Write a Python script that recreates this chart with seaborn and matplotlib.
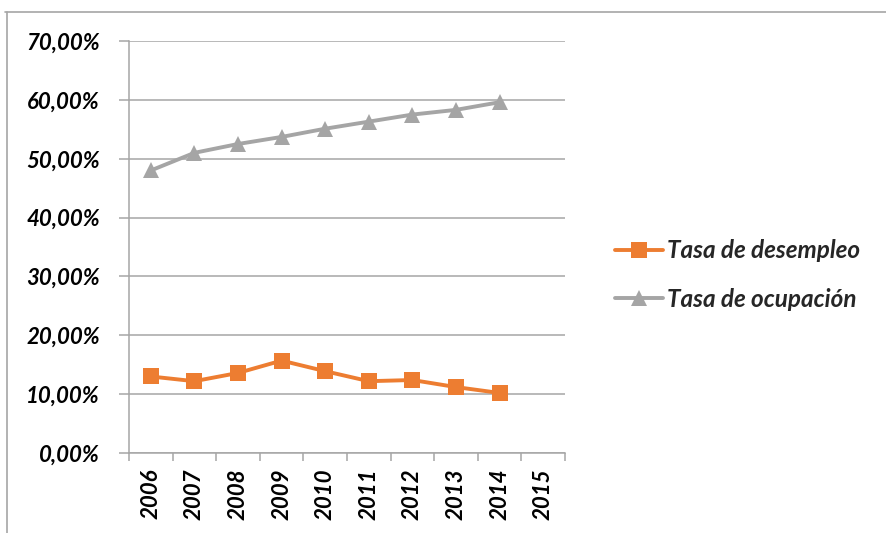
import seaborn as sns
import pandas as pd
import numpy as np
import matplotlib.pyplot as plt
from matplotlib.lines import Line2D
from matplotlib.ticker import FuncFormatter, FixedLocator

# data
years = ['2006', '2007', '2008', '2009', '2010', '2011', '2012', '2013', '2014', '2015']
desempleo = [13.0, 12.2, 13.6, 15.7, 13.9, 12.2, 12.4, 11.2, 10.2, None]
ocupacion = [48.0, 51.0, 52.5, 53.7, 55.1, 56.3, 57.5, 58.3, 59.6, None]
series_names = ['Tasa de desempleo', 'Tasa de ocupación']

df = pd.DataFrame({'year': years, series_names[0]: desempleo, series_names[1]: ocupacion})
long_df = df.melt(id_vars='year', var_name='serie', value_name='valor').dropna()
long_df['x'] = long_df['year'].map({y: i for i, y in enumerate(years)})

sns.set_style('white')
plt.rcParams['font.family'] = ['Lato', 'DejaVu Sans']

fig = plt.figure(figsize=(8.87, 5.33), dpi=100)
ax = fig.add_axes([129 / 887, 1 - 453 / 533, (565 - 129) / 887, (453 - 41) / 533])

palette = {series_names[0]: '#ED7D31', series_names[1]: '#A5A5A5'}
markers = {series_names[0]: 's', series_names[1]: '^'}
sns.lineplot(data=long_df, x='x', y='valor', hue='serie', style='serie',
             palette=palette, markers=markers, dashes=False, linewidth=2.8,
             markersize=11, markeredgewidth=0, ax=ax, legend=False, zorder=3)

grid_c = '#A6A6A6'
ax.set_xlim(-0.5, len(years) - 0.5)
ax.set_ylim(0, 70)
ax.set_yticks(np.arange(0, 71, 10))
ax.yaxis.set_major_formatter(FuncFormatter(lambda v, p: f'{v:.2f}%'.replace('.', ',')))
ax.grid(axis='y', color=grid_c, linewidth=1.1)
ax.set_axisbelow(True)

ax.set_xticks(range(len(years)))
ax.set_xticklabels(years, rotation=90)
ax.xaxis.set_minor_locator(FixedLocator(np.arange(-0.5, len(years), 1)))
ax.tick_params(axis='x', which='major', length=0, pad=11)
ax.tick_params(axis='x', which='minor', length=6, color=grid_c, width=1.1, direction='out', bottom=True)
ax.tick_params(axis='y', length=7, color=grid_c, width=1.1, direction='out', left=True, pad=14)
for lab in ax.get_xticklabels() + ax.get_yticklabels():
    lab.set_fontsize(16)
    lab.set_fontweight('bold')
    lab.set_fontstyle('italic')
    lab.set_color('black')

for s in ['top', 'right']:
    ax.spines[s].set_visible(False)
for s in ['left', 'bottom']:
    ax.spines[s].set_color(grid_c)
    ax.spines[s].set_linewidth(1.1)
ax.set_xlabel('')
ax.set_ylabel('')

handles = [Line2D([], [], color=palette[n], marker=markers[n], linewidth=2.8,
                  markersize=11, markeredgewidth=0) for n in series_names]
leg = fig.legend(handles, series_names, loc='center left', bbox_to_anchor=(593 / 887, 1 - 275 / 533),
                 frameon=False, handlelength=2.0, handletextpad=0.15, labelspacing=1.05,
                 prop={'family': 'Lato', 'weight': 'bold', 'style': 'italic', 'size': 17.5})

# outer chart border (top and left only visible)
fig.add_artist(Line2D([5 / 887, 1], [1 - 12 / 533, 1 - 12 / 533], color='#A6A6A6', linewidth=1.2))
fig.add_artist(Line2D([7 / 887, 7 / 887], [0, 1 - 12 / 533], color='#A6A6A6', linewidth=1.2))

fig.savefig('out.png', dpi=100)
